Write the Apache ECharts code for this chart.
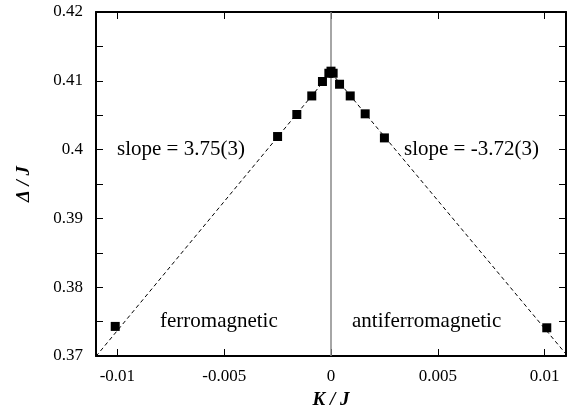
<!DOCTYPE html>
<html>
<head>
<meta charset="utf-8">
<script src="https://cdn.jsdelivr.net/npm/echarts@6/dist/echarts.min.js"></script>
<style>
  html, body { margin: 0; padding: 0; background: #fff; }
  #chart { width: 567px; height: 411px; }
</style>
</head>
<body>
<div id="chart"></div>
<script>
// ferromagnetic side (K < 0)
const kFerro = [-0.0101, -0.0025, -0.0016, -0.0009, -0.0004, -0.0001]
const dFerro = [0.3743, 0.4019, 0.4051, 0.4078, 0.4099, 0.4111]
// antiferromagnetic side (K >= 0)
const kAnti = [0, 0.0001, 0.0004, 0.0009, 0.0016, 0.0025, 0.0101]
const dAnti = [0.4114, 0.4111, 0.4095, 0.4078, 0.4052, 0.4017, 0.3741]
// linear fits, slope 3.75 and -3.72
const fitFerroK = [-0.011, 0]
const fitFerroD = [0.36995, 0.4112]
const fitAntiK = [0, 0.011]
const fitAntiD = [0.4112, 0.37028]
// K = 0 guide
const zeroK = [0, 0]
const zeroD = [0.37, 0.42]

const xTicks = [-0.01, -0.005, 0, 0.005, 0.01]

const font = 'Liberation Serif'
const black = '#000'

function pairs (xs, ys) {
  return xs.map((x, i) => [x, ys[i]])
}

const chart = echarts.init(document.getElementById('chart'))

const xBase = {
  type: 'value',
  min: -0.011,
  max: 0.011,
  axisLine: { show: true, onZero: false, lineStyle: { color: black, width: 2 } },
  axisTick: { show: true, inside: true, length: 7, customValues: xTicks, lineStyle: { color: black, width: 1 } },
  splitLine: { show: false }
}
const yBase = {
  type: 'value',
  min: 0.37,
  max: 0.42,
  interval: 0.01,
  axisLine: { show: true, onZero: false, lineStyle: { color: black, width: 2 } },
  axisTick: { show: true, inside: true, length: 7, lineStyle: { color: black, width: 1 } },
  minorTick: { show: true, splitNumber: 2, length: 7, lineStyle: { color: black, width: 1 } },
  splitLine: { show: false }
}

const options = {
  animation: false,
  backgroundColor: '#fff',
  textStyle: { fontFamily: font },
  grid: { left: 96, right: 1, top: 12, bottom: 55, outerBoundsMode: 'none', containLabel: false },
  xAxis: [
    Object.assign({}, xBase, {
      position: 'bottom',
      name: 'K / J',
      nameLocation: 'middle',
      nameGap: 35,
      nameTextStyle: { fontFamily: font, fontSize: 19, fontStyle: 'italic', fontWeight: 'bold', color: black },
      axisLabel: {
        show: true,
        customValues: xTicks,
        margin: 12,
        fontFamily: font,
        fontSize: 17,
        color: black,
        formatter: v => String(parseFloat(v.toFixed(4)))
      }
    }),
    Object.assign({}, xBase, {
      position: 'top',
      axisLabel: { show: false }
    })
  ],
  yAxis: [
    Object.assign({}, yBase, {
      position: 'left',
      name: 'Δ / J',
      nameLocation: 'middle',
      nameGap: 62,
      nameRotate: 90,
      nameTextStyle: { fontFamily: font, fontSize: 19, fontStyle: 'italic', fontWeight: 'bold', color: black },
      axisLabel: {
        show: true,
        margin: 13,
        fontFamily: font,
        fontSize: 17,
        color: black,
        formatter: v => String(parseFloat(v.toFixed(3)))
      }
    }),
    Object.assign({}, yBase, {
      position: 'right',
      axisLabel: { show: false }
    })
  ],
  series: [
    {
      name: 'zero',
      type: 'line',
      symbol: 'none',
      data: pairs(zeroK, zeroD),
      lineStyle: { color: '#888', width: 1.5 },
      z: 1
    },
    {
      name: 'fitFerro',
      type: 'line',
      symbol: 'none',
      data: pairs(fitFerroK, fitFerroD),
      lineStyle: { color: black, width: 1, type: [4, 3] },
      z: 2
    },
    {
      name: 'fitAnti',
      type: 'line',
      symbol: 'none',
      data: pairs(fitAntiK, fitAntiD),
      lineStyle: { color: black, width: 1, type: [4, 3] },
      z: 2
    },
    {
      name: 'ferro',
      type: 'scatter',
      symbol: 'rect',
      symbolSize: 9,
      itemStyle: { color: black, opacity: 1 },
      data: pairs(kFerro, dFerro),
      z: 3
    },
    {
      name: 'anti',
      type: 'scatter',
      symbol: 'rect',
      symbolSize: 9,
      itemStyle: { color: black, opacity: 1 },
      data: pairs(kAnti, dAnti),
      z: 3
    }
  ],
  graphic: [
    { type: 'text', left: 117, top: 139, style: { text: 'slope = 3.75(3)', font: '21px "Liberation Serif"', fill: black } },
    { type: 'text', left: 404, top: 139, style: { text: 'slope = -3.72(3)', font: '21px "Liberation Serif"', fill: black } },
    { type: 'text', left: 160, top: 311, style: { text: 'ferromagnetic', font: '21px "Liberation Serif"', fill: black } },
    { type: 'text', left: 352, top: 311, style: { text: 'antiferromagnetic', font: '21px "Liberation Serif"', fill: black } }
  ]
}

chart.setOption(options)
</script>
</body>
</html>
